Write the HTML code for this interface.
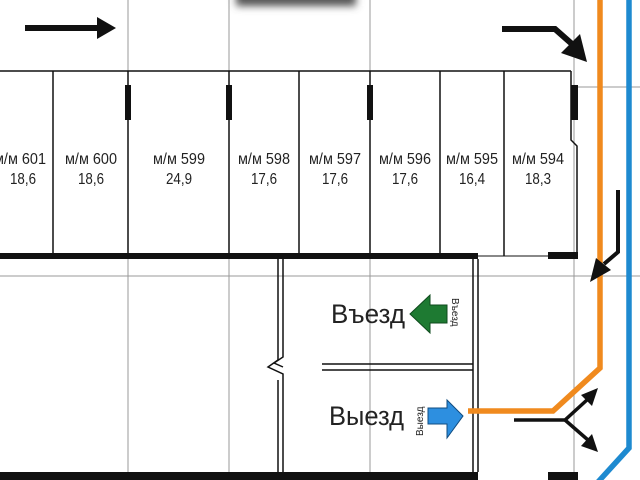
<!DOCTYPE html>
<html><head><meta charset="utf-8"><style>
html,body{margin:0;padding:0;background:#fff;}
svg{display:block;}
text{font-family:"Liberation Sans Narrow","Liberation Sans",sans-serif;fill:#222;}
</style></head><body>
<svg width="640" height="480" viewBox="0 0 640 480" xmlns="http://www.w3.org/2000/svg">
<defs>
<filter id="b" x="-20%" y="-100%" width="140%" height="300%"><feGaussianBlur stdDeviation="4"/></filter>
</defs>
<!-- header shadow box -->
<rect x="236" y="-14" width="120" height="20" fill="#555" filter="url(#b)"/>
<rect x="242" y="-14" width="108" height="14" fill="#fff"/>
<!-- grid -->
<g stroke="#999" stroke-width="1">
<line x1="128" y1="0" x2="128" y2="480"/>
<line x1="229" y1="0" x2="229" y2="480"/>
<line x1="370" y1="0" x2="370" y2="480"/>
<line x1="574" y1="0" x2="574" y2="480"/>
<line x1="576" y1="87" x2="640" y2="87"/>
<line x1="0" y1="276" x2="640" y2="276"/>
</g>
<!-- stalls -->
<g stroke="#111" stroke-width="1.5" fill="none">
<line x1="0" y1="71" x2="571" y2="71"/>
<line x1="53" y1="71" x2="53" y2="256"/>
<line x1="128" y1="71" x2="128" y2="256"/>
<line x1="229" y1="71" x2="229" y2="256"/>
<line x1="299" y1="71" x2="299" y2="256"/>
<line x1="370" y1="71" x2="370" y2="256"/>
<line x1="440" y1="71" x2="440" y2="256"/>
<line x1="504" y1="71" x2="504" y2="256"/>
<polyline points="571,71 571,140 577,146 577,256"/>
<line x1="478" y1="256" x2="577" y2="256" stroke-width="1"/>
</g>
<g fill="#111">
<rect x="125" y="85" width="6" height="35"/>
<rect x="226" y="85" width="6" height="35"/>
<rect x="367" y="85" width="6" height="35"/>
<rect x="571" y="85" width="7" height="35"/>
<rect x="548" y="252" width="30" height="7"/>
<rect x="0" y="253" width="478" height="6"/>
<rect x="0" y="472" width="478" height="8"/>
<rect x="548" y="472" width="30" height="8"/>
</g>
<g font-size="16" text-anchor="middle" lengthAdjust="spacingAndGlyphs">
<text x="20" y="164" textLength="52" lengthAdjust="spacingAndGlyphs">м/м 601</text><text x="23" y="184" textLength="26" lengthAdjust="spacingAndGlyphs">18,6</text>
<text x="91" y="164" textLength="52" lengthAdjust="spacingAndGlyphs">м/м 600</text><text x="91" y="184" textLength="26" lengthAdjust="spacingAndGlyphs">18,6</text>
<text x="179" y="164" textLength="52" lengthAdjust="spacingAndGlyphs">м/м 599</text><text x="179" y="184" textLength="26" lengthAdjust="spacingAndGlyphs">24,9</text>
<text x="264" y="164" textLength="52" lengthAdjust="spacingAndGlyphs">м/м 598</text><text x="264" y="184" textLength="26" lengthAdjust="spacingAndGlyphs">17,6</text>
<text x="335" y="164" textLength="52" lengthAdjust="spacingAndGlyphs">м/м 597</text><text x="335" y="184" textLength="26" lengthAdjust="spacingAndGlyphs">17,6</text>
<text x="405" y="164" textLength="52" lengthAdjust="spacingAndGlyphs">м/м 596</text><text x="405" y="184" textLength="26" lengthAdjust="spacingAndGlyphs">17,6</text>
<text x="472" y="164" textLength="52" lengthAdjust="spacingAndGlyphs">м/м 595</text><text x="472" y="184" textLength="26" lengthAdjust="spacingAndGlyphs">16,4</text>
<text x="538" y="164" textLength="52" lengthAdjust="spacingAndGlyphs">м/м 594</text><text x="538" y="184" textLength="26" lengthAdjust="spacingAndGlyphs">18,3</text>
</g>
<!-- lower walls -->
<g stroke="#111" stroke-width="1.5" fill="none">
<polyline points="278,259 278,360 268,367 283,374 283,472"/>
<polyline points="283,259 283,357 274,363 283,367"/>
<line x1="278" y1="380" x2="278" y2="472"/>
<line x1="473" y1="259" x2="473" y2="472"/>
<line x1="478" y1="259" x2="478" y2="472"/>
<line x1="322" y1="364" x2="473" y2="364"/>
<line x1="322" y1="370" x2="473" y2="370"/>
</g>
<!-- labels -->
<text x="331" y="323" font-size="27" textLength="74" lengthAdjust="spacingAndGlyphs">Въезд</text>
<text x="329" y="425" font-size="27" textLength="75" lengthAdjust="spacingAndGlyphs">Выезд</text>
<text font-size="10" transform="translate(452,298) rotate(90)">Въезд</text>
<text font-size="10" transform="translate(423,436) rotate(-90)">Выезд</text>
<polygon points="410,314 430,295 430,305 447,305 447,323 430,323 430,333" fill="#1e7a32" stroke="#0e4a1c" stroke-width="1"/>
<polygon points="463,416 447,400 447,408 428,408 428,424 447,424 447,438" fill="#2d8fe0" stroke="#114c80" stroke-width="1"/>
<!-- routes -->
<polyline points="600,0 600,368 553,411 468,411" fill="none" stroke="#f08a1e" stroke-width="5.5"/>
<polyline points="629,0 629,448 598,482" fill="none" stroke="#1e8ad0" stroke-width="5.5"/>
<!-- black arrows -->
<g fill="#111" stroke="#111">
<line x1="25" y1="28" x2="100" y2="28" stroke-width="6"/>
<polygon points="116,28 97,17 97,39" stroke="none"/>
<polyline points="502,29 555,29 572,44" fill="none" stroke-width="6"/>
<polygon points="587,62 561,53 580,34" stroke="none"/>
<polyline points="618,190 618,252 604,264" fill="none" stroke-width="4"/>
<polygon points="590,282 596,258 611,270" stroke="none"/>
<polyline points="514,420 565,420 588,399" fill="none" stroke-width="3.5"/>
<polyline points="565,420 588,440" fill="none" stroke-width="3.5"/>
<polygon points="598,388 581,395 592,406" stroke="none"/>
<polygon points="598,452 581,446 592,434" stroke="none"/>
</g>
</svg>
</body></html>
